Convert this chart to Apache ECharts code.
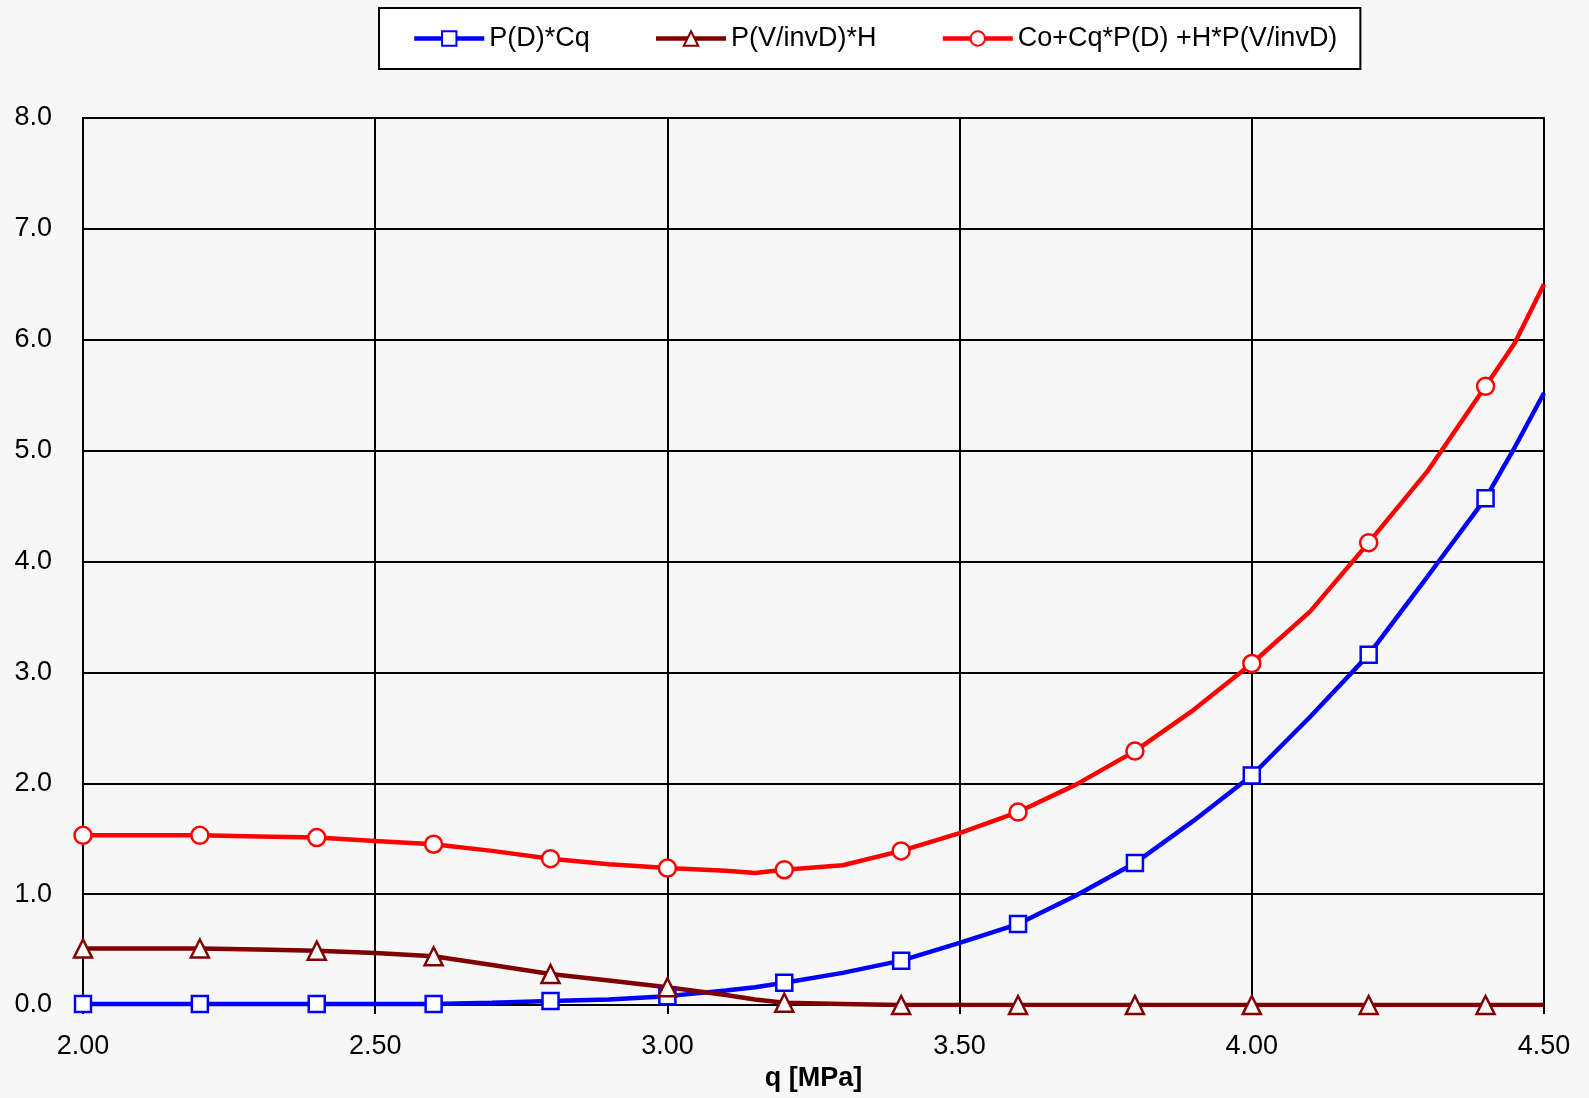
<!DOCTYPE html>
<html>
<head>
<meta charset="utf-8">
<script src="https://cdn.jsdelivr.net/npm/echarts@6/dist/echarts.min.js"></script>
<style>
  html, body { margin: 0; padding: 0; background: #f7f7f7; }
  #chart { width: 1589px; height: 1098px; }
</style>
</head>
<body>
<div id="chart"></div>
<script>
// q values of the curve points (some points only shape the line, no marker)
const qValues = [2.0, 2.1, 2.2, 2.3, 2.4, 2.5, 2.6, 2.7, 2.8, 2.9, 3.0, 3.1, 3.15,
  3.2, 3.3, 3.4, 3.5, 3.6, 3.7, 3.8, 3.9, 4.0, 4.1, 4.2, 4.3, 4.4, 4.45, 4.5]
// q values that carry a marker
const markerQ = [2.0, 2.2, 2.4, 2.6, 2.8, 3.0, 3.2, 3.4, 3.6, 3.8, 4.0, 4.2, 4.4]

const pdCq = [0.01, 0.01, 0.01, 0.01, 0.01, 0.01, 0.01, 0.02, 0.035, 0.05, 0.08, 0.13, 0.16,
  0.20, 0.29, 0.40, 0.56, 0.73, 0.99, 1.28, 1.66, 2.07, 2.60, 3.16, 3.86, 4.57, 5.03, 5.52]
const pvH = [0.51, 0.51, 0.51, 0.50, 0.49, 0.47, 0.44, 0.36, 0.28, 0.22, 0.16, 0.09, 0.05,
  0.02, 0.01, 0.0, 0.0, 0.0, 0.0, 0.0, 0.0, 0.0, 0.0, 0.0, 0.0, 0.0, 0.0, 0.0]
const total = [1.53, 1.53, 1.53, 1.52, 1.51, 1.48, 1.45, 1.39, 1.32, 1.27, 1.235, 1.21, 1.19,
  1.22, 1.26, 1.39, 1.55, 1.74, 1.99, 2.29, 2.66, 3.08, 3.55, 4.17, 4.81, 5.58, 5.97, 6.5]

const seriesNames = ['P(D)*Cq', 'P(V/invD)*H', 'Co+Cq*P(D) +H*P(V/invD)']

const font = 'Arial, "Liberation Sans", sans-serif'

const buildData = (vals) => qValues.map((q, i) => {
  const hasMarker = markerQ.some(m => Math.abs(m - q) < 1e-6)
  return hasMarker ? { value: [q, vals[i]] } : { value: [q, vals[i]], symbol: 'none' }
})

const makeSeries = (name, vals, color, symbol, size) => ({
  name: name,
  type: 'line',
  data: buildData(vals),
  symbol: symbol,
  symbolSize: size,
  showAllSymbol: true,
  lineStyle: { color: color, width: 4.5 },
  itemStyle: { color: '#fff', borderColor: color, borderWidth: 2.5 },
  emphasis: { disabled: true },
  animation: false
})

const chart = echarts.init(document.getElementById('chart'))

const option = {
  backgroundColor: '#f7f7f7',
  textStyle: { fontFamily: font },
  legend: {
    left: 379,
    top: 8,
    backgroundColor: '#fff',
    borderColor: '#000',
    borderWidth: 2,
    borderRadius: 0,
    padding: [17, 23, 17, 33],
    itemGap: 64,
    itemWidth: 70,
    itemHeight: 18,
    lineStyle: { width: 4.5 },
    textStyle: { fontSize: 27, color: '#000', fontFamily: font },
    data: seriesNames
  },
  grid: {
    left: 83,
    right: 45,
    top: 118,
    bottom: 93,
    show: true,
    borderColor: '#000',
    borderWidth: 2,
    backgroundColor: 'transparent'
  },
  xAxis: {
    type: 'value',
    min: 2,
    max: 4.5,
    interval: 0.5,
    name: 'q [MPa]',
    nameLocation: 'middle',
    nameGap: 58,
    nameTextStyle: { fontSize: 27, fontWeight: 'bold', color: '#000', fontFamily: font },
    axisLine: { lineStyle: { color: '#000', width: 2 } },
    axisTick: { show: true, length: 9, lineStyle: { color: '#000', width: 2 } },
    axisLabel: {
      fontSize: 27,
      color: '#000',
      margin: 28,
      formatter: v => v.toFixed(2)
    },
    splitLine: { show: true, lineStyle: { color: '#000', width: 2 } }
  },
  yAxis: {
    type: 'value',
    min: 0,
    max: 8,
    interval: 1,
    axisLine: { show: true, lineStyle: { color: '#000', width: 2 } },
    axisTick: { show: false },
    axisLabel: {
      fontSize: 27,
      color: '#000',
      margin: 31,
      formatter: v => v.toFixed(1)
    },
    splitLine: { show: true, lineStyle: { color: '#000', width: 2 } }
  },
  series: [
    makeSeries(seriesNames[0], pdCq, '#0000ff', 'rect', 16),
    makeSeries(seriesNames[1], pvH, '#800000', 'triangle', 18),
    makeSeries(seriesNames[2], total, '#ff0000', 'circle', 17)
  ]
}

chart.setOption(option)
</script>
</body>
</html>
